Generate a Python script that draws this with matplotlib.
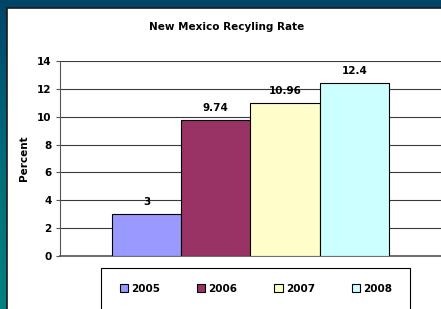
import matplotlib.pyplot as plt
import numpy as np
from matplotlib.patches import Rectangle, Patch
from matplotlib.colors import LinearSegmentedColormap

# data
years = ['2005', '2006', '2007', '2008']
rates = [3, 9.74, 10.96, 12.4]
bar_colors = ['#9999FF', '#993366', '#FFFFCC', '#CCFFFF']
yticks = [0, 2, 4, 6, 8, 10, 12, 14]

W, H = 441, 309
fig = plt.figure(figsize=(W / 100, H / 100), dpi=100)

# background gradient (dark blue -> teal)
bg = fig.add_axes([0, 0, 1, 1], zorder=0)
grad = np.linspace(0, 1, 256).reshape(-1, 1)
cmap = LinearSegmentedColormap.from_list('bg', ['#004468', '#006b7a', '#008282'])
bg.imshow(grad, aspect='auto', cmap=cmap, extent=[0, 1, 0, 1], origin='upper')
bg.set_xlim(0, 1)
bg.set_ylim(0, 1)
bg.axis('off')

# white panel
px0, py0 = 7 / W, 8 / H
bg.add_patch(Rectangle((px0, 0), 1 - px0, 1 - py0, transform=bg.transAxes,
                       facecolor='white', edgecolor='none', zorder=2))
bg.plot([px0, px0, 1], [0, 1 - py0, 1 - py0], color='#1a1a1a', lw=1.2,
        transform=bg.transAxes, zorder=3)

# plot area
ax = fig.add_axes([60 / W, 1 - 256 / H, (W - 60) / W, (256 - 61) / H], zorder=1)
ax.patch.set_alpha(0)
x = np.arange(len(years))
ax.bar(x, rates, width=1.0, color=bar_colors, edgecolor='black', linewidth=0.8, zorder=3)

for xi, v in zip(x, rates):
    ax.annotate(f'{v:g}', (xi, v), xytext=(0, 5), textcoords='offset points',
                ha='center', va='bottom', fontsize=7.5, fontweight='bold', zorder=4)

ax.set_ylim(0, 14)
ax.set_xlim(-1.251, 4.251)
ax.set_yticks(yticks)
ax.set_yticklabels([str(t) for t in yticks], fontsize=7.5, fontweight='bold')
ax.set_xticks([])
ax.yaxis.grid(True, color='#3a3a3a', linewidth=0.8, zorder=0)
ax.set_axisbelow(True)
for s in ['top', 'right']:
    ax.spines[s].set_visible(False)
ax.spines['left'].set_color('#555555')
ax.spines['bottom'].set_color('#555555')
ax.spines['bottom'].set_linewidth(1.2)
ax.tick_params(axis='y', length=3, pad=3, color='#555555')
ax.set_ylabel('Percent', fontsize=7.5, fontweight='bold', labelpad=6)

fig.text(227 / W, 1 - 27 / H, 'New Mexico Recyling Rate', ha='center', va='center',
         fontsize=7.5, fontweight='bold')

# legend box
bg.add_patch(Rectangle((101 / W, -0.05), (410 - 101) / W, 0.05 + 1 - 268 / H,
                       transform=bg.transAxes, facecolor='white',
                       edgecolor='black', lw=0.8, zorder=4))
handles = [Patch(facecolor=c, edgecolor='black', linewidth=0.8) for c in bar_colors]
leg = fig.legend(handles, years, loc='center', bbox_to_anchor=(256 / W, 1 - 289 / H),
                 ncol=4, frameon=False, prop={'size': 7.5, 'weight': 'bold'},
                 handlelength=0.8, handleheight=0.8, handletextpad=0.3,
                 columnspacing=3.55)
leg.set_zorder(5)

fig.savefig('out.png', dpi=100)
